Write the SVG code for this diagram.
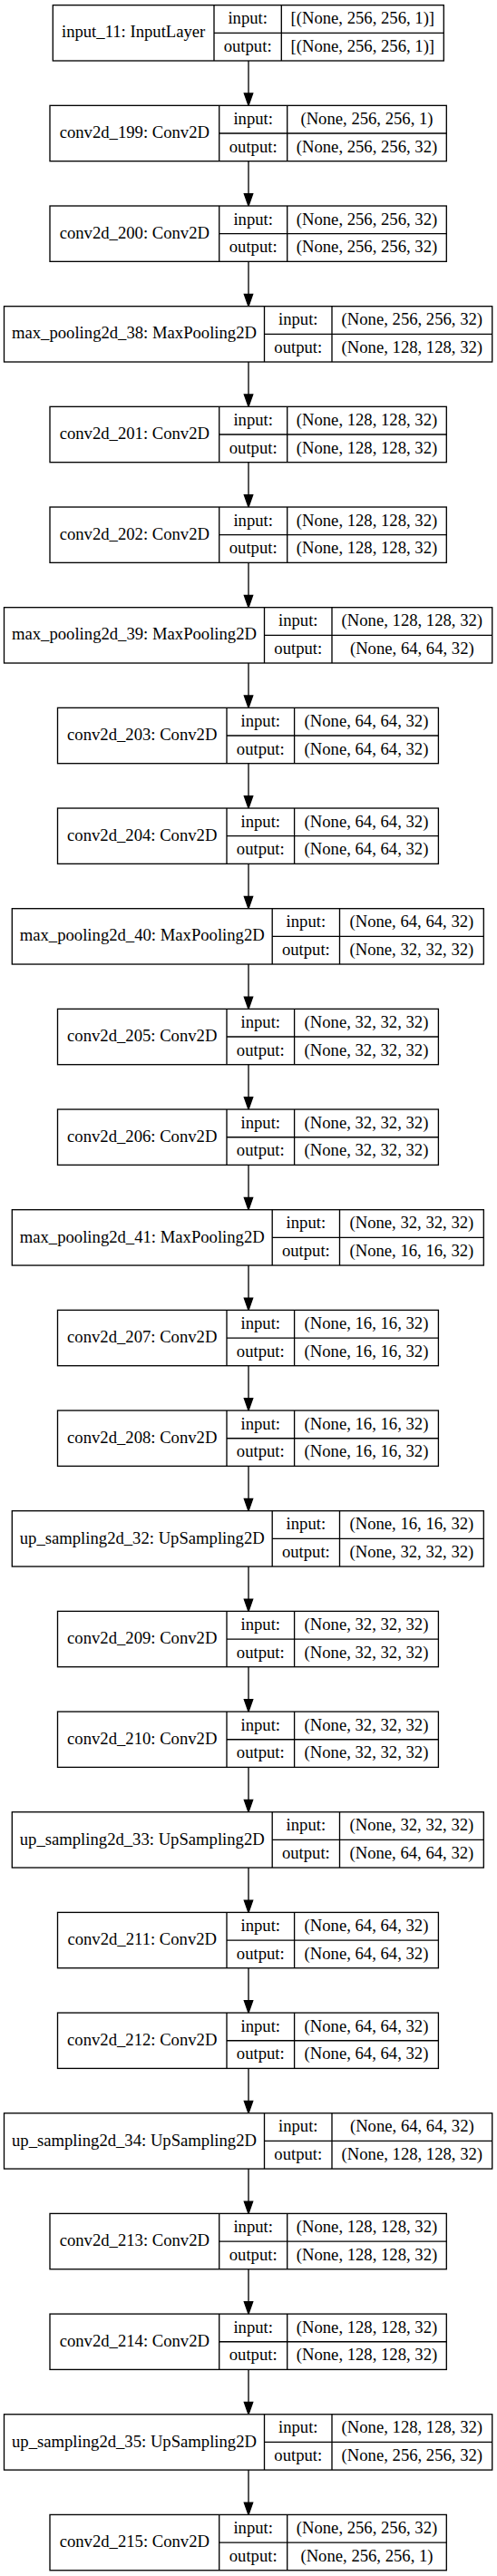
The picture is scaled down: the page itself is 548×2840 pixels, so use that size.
<svg xmlns="http://www.w3.org/2000/svg" width="548" height="2840" viewBox="0 0 548 2840">
<style>
.b{fill:#fff;stroke:#000;stroke-width:1.33}
.s{fill:none;stroke:#000;stroke-width:1.33}
text{font-family:"Liberation Serif","Times New Roman",serif;font-size:18.67px;text-anchor:middle;fill:#000}
.e{fill:none;stroke:#000;stroke-width:1.33}
</style>
<defs>
<marker id="ah" markerUnits="userSpaceOnUse" markerWidth="16" markerHeight="12" refX="0" refY="4.67" orient="auto" overflow="visible">
<path d="M0,0 L13.33,4.67 L0,9.33 Z" fill="#000" stroke="#000" stroke-width="1.33"/>
</marker>
</defs>
<rect width="548" height="2840" fill="#fff"/>
<g id="connectors">
<line class="e" x1="274" y1="67" x2="274" y2="103.01" marker-end="url(#ah)"/>
<line class="e" x1="274" y1="177.67" x2="274" y2="213.68" marker-end="url(#ah)"/>
<line class="e" x1="274" y1="288.34" x2="274" y2="324.35" marker-end="url(#ah)"/>
<line class="e" x1="274" y1="399.01" x2="274" y2="435.02" marker-end="url(#ah)"/>
<line class="e" x1="274" y1="509.68" x2="274" y2="545.69" marker-end="url(#ah)"/>
<line class="e" x1="274" y1="620.35" x2="274" y2="656.36" marker-end="url(#ah)"/>
<line class="e" x1="274" y1="731.02" x2="274" y2="767.03" marker-end="url(#ah)"/>
<line class="e" x1="274" y1="841.69" x2="274" y2="877.70" marker-end="url(#ah)"/>
<line class="e" x1="274" y1="952.36" x2="274" y2="988.37" marker-end="url(#ah)"/>
<line class="e" x1="274" y1="1063.03" x2="274" y2="1099.04" marker-end="url(#ah)"/>
<line class="e" x1="274" y1="1173.70" x2="274" y2="1209.71" marker-end="url(#ah)"/>
<line class="e" x1="274" y1="1284.37" x2="274" y2="1320.38" marker-end="url(#ah)"/>
<line class="e" x1="274" y1="1395.04" x2="274" y2="1431.05" marker-end="url(#ah)"/>
<line class="e" x1="274" y1="1505.71" x2="274" y2="1541.72" marker-end="url(#ah)"/>
<line class="e" x1="274" y1="1616.38" x2="274" y2="1652.39" marker-end="url(#ah)"/>
<line class="e" x1="274" y1="1727.05" x2="274" y2="1763.06" marker-end="url(#ah)"/>
<line class="e" x1="274" y1="1837.72" x2="274" y2="1873.73" marker-end="url(#ah)"/>
<line class="e" x1="274" y1="1948.39" x2="274" y2="1984.40" marker-end="url(#ah)"/>
<line class="e" x1="274" y1="2059.06" x2="274" y2="2095.07" marker-end="url(#ah)"/>
<line class="e" x1="274" y1="2169.73" x2="274" y2="2205.74" marker-end="url(#ah)"/>
<line class="e" x1="274" y1="2280.40" x2="274" y2="2316.41" marker-end="url(#ah)"/>
<line class="e" x1="274" y1="2391.07" x2="274" y2="2427.08" marker-end="url(#ah)"/>
<line class="e" x1="274" y1="2501.74" x2="274" y2="2537.75" marker-end="url(#ah)"/>
<line class="e" x1="274" y1="2612.41" x2="274" y2="2648.42" marker-end="url(#ah)"/>
<line class="e" x1="274" y1="2723.08" x2="274" y2="2759.09" marker-end="url(#ah)"/>
</g>

<g id="input_11" transform="translate(0,5.67)">
<rect class="b" x="58.3" y="0" width="431" height="61.33"/>
<path class="s" d="M236,0V61.33M310.3,0V61.33M236,30.67H489.3"/>
<text x="147.15" y="35.8">input_11: InputLayer</text>
<text x="273.15" y="20.6">input:</text><text x="273.15" y="51.3">output:</text>
<text x="399.8" y="20.6">[(None, 256, 256, 1)]</text><text x="399.8" y="51.3">[(None, 256, 256, 1)]</text>
</g>

<g id="conv2d_199" transform="translate(0,116.34)">
<rect class="b" x="55" y="0" width="437.3" height="61.33"/>
<path class="s" d="M241.7,0V61.33M316.7,0V61.33M241.7,30.67H492.3"/>
<text x="148.35" y="35.8">conv2d_199: Conv2D</text>
<text x="279.2" y="20.6">input:</text><text x="279.2" y="51.3">output:</text>
<text x="404.5" y="20.6">(None, 256, 256, 1)</text><text x="404.5" y="51.3">(None, 256, 256, 32)</text>
</g>

<g id="conv2d_200" transform="translate(0,227.01)">
<rect class="b" x="55" y="0" width="437.3" height="61.33"/>
<path class="s" d="M241.7,0V61.33M316.7,0V61.33M241.7,30.67H492.3"/>
<text x="148.35" y="35.8">conv2d_200: Conv2D</text>
<text x="279.2" y="20.6">input:</text><text x="279.2" y="51.3">output:</text>
<text x="404.5" y="20.6">(None, 256, 256, 32)</text><text x="404.5" y="51.3">(None, 256, 256, 32)</text>
</g>

<g id="max_pooling2d_38" transform="translate(0,337.68)">
<rect class="b" x="4.5" y="0" width="538.2" height="61.33"/>
<path class="s" d="M291.5,0V61.33M366,0V61.33M291.5,30.67H542.7"/>
<text x="148" y="35.8">max_pooling2d_38: MaxPooling2D</text>
<text x="328.75" y="20.6">input:</text><text x="328.75" y="51.3">output:</text>
<text x="454.35" y="20.6">(None, 256, 256, 32)</text><text x="454.35" y="51.3">(None, 128, 128, 32)</text>
</g>

<g id="conv2d_201" transform="translate(0,448.35)">
<rect class="b" x="55" y="0" width="437.3" height="61.33"/>
<path class="s" d="M241.7,0V61.33M316.7,0V61.33M241.7,30.67H492.3"/>
<text x="148.35" y="35.8">conv2d_201: Conv2D</text>
<text x="279.2" y="20.6">input:</text><text x="279.2" y="51.3">output:</text>
<text x="404.5" y="20.6">(None, 128, 128, 32)</text><text x="404.5" y="51.3">(None, 128, 128, 32)</text>
</g>

<g id="conv2d_202" transform="translate(0,559.02)">
<rect class="b" x="55" y="0" width="437.3" height="61.33"/>
<path class="s" d="M241.7,0V61.33M316.7,0V61.33M241.7,30.67H492.3"/>
<text x="148.35" y="35.8">conv2d_202: Conv2D</text>
<text x="279.2" y="20.6">input:</text><text x="279.2" y="51.3">output:</text>
<text x="404.5" y="20.6">(None, 128, 128, 32)</text><text x="404.5" y="51.3">(None, 128, 128, 32)</text>
</g>

<g id="max_pooling2d_39" transform="translate(0,669.69)">
<rect class="b" x="4.5" y="0" width="538.2" height="61.33"/>
<path class="s" d="M291.5,0V61.33M366,0V61.33M291.5,30.67H542.7"/>
<text x="148" y="35.8">max_pooling2d_39: MaxPooling2D</text>
<text x="328.75" y="20.6">input:</text><text x="328.75" y="51.3">output:</text>
<text x="454.35" y="20.6">(None, 128, 128, 32)</text><text x="454.35" y="51.3">(None, 64, 64, 32)</text>
</g>

<g id="conv2d_203" transform="translate(0,780.36)">
<rect class="b" x="63.5" y="0" width="419.9" height="61.33"/>
<path class="s" d="M250,0V61.33M324.6,0V61.33M250,30.67H483.4"/>
<text x="156.75" y="35.8">conv2d_203: Conv2D</text>
<text x="287.3" y="20.6">input:</text><text x="287.3" y="51.3">output:</text>
<text x="404" y="20.6">(None, 64, 64, 32)</text><text x="404" y="51.3">(None, 64, 64, 32)</text>
</g>

<g id="conv2d_204" transform="translate(0,891.03)">
<rect class="b" x="63.5" y="0" width="419.9" height="61.33"/>
<path class="s" d="M250,0V61.33M324.6,0V61.33M250,30.67H483.4"/>
<text x="156.75" y="35.8">conv2d_204: Conv2D</text>
<text x="287.3" y="20.6">input:</text><text x="287.3" y="51.3">output:</text>
<text x="404" y="20.6">(None, 64, 64, 32)</text><text x="404" y="51.3">(None, 64, 64, 32)</text>
</g>

<g id="max_pooling2d_40" transform="translate(0,1001.70)">
<rect class="b" x="13.3" y="0" width="520" height="61.33"/>
<path class="s" d="M300.2,0V61.33M374.5,0V61.33M300.2,30.67H533.3"/>
<text x="156.75" y="35.8">max_pooling2d_40: MaxPooling2D</text>
<text x="337.35" y="20.6">input:</text><text x="337.35" y="51.3">output:</text>
<text x="453.9" y="20.6">(None, 64, 64, 32)</text><text x="453.9" y="51.3">(None, 32, 32, 32)</text>
</g>

<g id="conv2d_205" transform="translate(0,1112.37)">
<rect class="b" x="63.5" y="0" width="419.9" height="61.33"/>
<path class="s" d="M250,0V61.33M324.6,0V61.33M250,30.67H483.4"/>
<text x="156.75" y="35.8">conv2d_205: Conv2D</text>
<text x="287.3" y="20.6">input:</text><text x="287.3" y="51.3">output:</text>
<text x="404" y="20.6">(None, 32, 32, 32)</text><text x="404" y="51.3">(None, 32, 32, 32)</text>
</g>

<g id="conv2d_206" transform="translate(0,1223.04)">
<rect class="b" x="63.5" y="0" width="419.9" height="61.33"/>
<path class="s" d="M250,0V61.33M324.6,0V61.33M250,30.67H483.4"/>
<text x="156.75" y="35.8">conv2d_206: Conv2D</text>
<text x="287.3" y="20.6">input:</text><text x="287.3" y="51.3">output:</text>
<text x="404" y="20.6">(None, 32, 32, 32)</text><text x="404" y="51.3">(None, 32, 32, 32)</text>
</g>

<g id="max_pooling2d_41" transform="translate(0,1333.71)">
<rect class="b" x="13.3" y="0" width="520" height="61.33"/>
<path class="s" d="M300.2,0V61.33M374.5,0V61.33M300.2,30.67H533.3"/>
<text x="156.75" y="35.8">max_pooling2d_41: MaxPooling2D</text>
<text x="337.35" y="20.6">input:</text><text x="337.35" y="51.3">output:</text>
<text x="453.9" y="20.6">(None, 32, 32, 32)</text><text x="453.9" y="51.3">(None, 16, 16, 32)</text>
</g>

<g id="conv2d_207" transform="translate(0,1444.38)">
<rect class="b" x="63.5" y="0" width="419.9" height="61.33"/>
<path class="s" d="M250,0V61.33M324.6,0V61.33M250,30.67H483.4"/>
<text x="156.75" y="35.8">conv2d_207: Conv2D</text>
<text x="287.3" y="20.6">input:</text><text x="287.3" y="51.3">output:</text>
<text x="404" y="20.6">(None, 16, 16, 32)</text><text x="404" y="51.3">(None, 16, 16, 32)</text>
</g>

<g id="conv2d_208" transform="translate(0,1555.05)">
<rect class="b" x="63.5" y="0" width="419.9" height="61.33"/>
<path class="s" d="M250,0V61.33M324.6,0V61.33M250,30.67H483.4"/>
<text x="156.75" y="35.8">conv2d_208: Conv2D</text>
<text x="287.3" y="20.6">input:</text><text x="287.3" y="51.3">output:</text>
<text x="404" y="20.6">(None, 16, 16, 32)</text><text x="404" y="51.3">(None, 16, 16, 32)</text>
</g>

<g id="up_sampling2d_32" transform="translate(0,1665.72)">
<rect class="b" x="13.3" y="0" width="520" height="61.33"/>
<path class="s" d="M300.2,0V61.33M374.5,0V61.33M300.2,30.67H533.3"/>
<text x="156.75" y="35.8">up_sampling2d_32: UpSampling2D</text>
<text x="337.35" y="20.6">input:</text><text x="337.35" y="51.3">output:</text>
<text x="453.9" y="20.6">(None, 16, 16, 32)</text><text x="453.9" y="51.3">(None, 32, 32, 32)</text>
</g>

<g id="conv2d_209" transform="translate(0,1776.39)">
<rect class="b" x="63.5" y="0" width="419.9" height="61.33"/>
<path class="s" d="M250,0V61.33M324.6,0V61.33M250,30.67H483.4"/>
<text x="156.75" y="35.8">conv2d_209: Conv2D</text>
<text x="287.3" y="20.6">input:</text><text x="287.3" y="51.3">output:</text>
<text x="404" y="20.6">(None, 32, 32, 32)</text><text x="404" y="51.3">(None, 32, 32, 32)</text>
</g>

<g id="conv2d_210" transform="translate(0,1887.06)">
<rect class="b" x="63.5" y="0" width="419.9" height="61.33"/>
<path class="s" d="M250,0V61.33M324.6,0V61.33M250,30.67H483.4"/>
<text x="156.75" y="35.8">conv2d_210: Conv2D</text>
<text x="287.3" y="20.6">input:</text><text x="287.3" y="51.3">output:</text>
<text x="404" y="20.6">(None, 32, 32, 32)</text><text x="404" y="51.3">(None, 32, 32, 32)</text>
</g>

<g id="up_sampling2d_33" transform="translate(0,1997.73)">
<rect class="b" x="13.3" y="0" width="520" height="61.33"/>
<path class="s" d="M300.2,0V61.33M374.5,0V61.33M300.2,30.67H533.3"/>
<text x="156.75" y="35.8">up_sampling2d_33: UpSampling2D</text>
<text x="337.35" y="20.6">input:</text><text x="337.35" y="51.3">output:</text>
<text x="453.9" y="20.6">(None, 32, 32, 32)</text><text x="453.9" y="51.3">(None, 64, 64, 32)</text>
</g>

<g id="conv2d_211" transform="translate(0,2108.40)">
<rect class="b" x="63.5" y="0" width="419.9" height="61.33"/>
<path class="s" d="M250,0V61.33M324.6,0V61.33M250,30.67H483.4"/>
<text x="156.75" y="35.8">conv2d_211: Conv2D</text>
<text x="287.3" y="20.6">input:</text><text x="287.3" y="51.3">output:</text>
<text x="404" y="20.6">(None, 64, 64, 32)</text><text x="404" y="51.3">(None, 64, 64, 32)</text>
</g>

<g id="conv2d_212" transform="translate(0,2219.07)">
<rect class="b" x="63.5" y="0" width="419.9" height="61.33"/>
<path class="s" d="M250,0V61.33M324.6,0V61.33M250,30.67H483.4"/>
<text x="156.75" y="35.8">conv2d_212: Conv2D</text>
<text x="287.3" y="20.6">input:</text><text x="287.3" y="51.3">output:</text>
<text x="404" y="20.6">(None, 64, 64, 32)</text><text x="404" y="51.3">(None, 64, 64, 32)</text>
</g>

<g id="up_sampling2d_34" transform="translate(0,2329.74)">
<rect class="b" x="4.5" y="0" width="538.2" height="61.33"/>
<path class="s" d="M291.5,0V61.33M366,0V61.33M291.5,30.67H542.7"/>
<text x="148" y="35.8">up_sampling2d_34: UpSampling2D</text>
<text x="328.75" y="20.6">input:</text><text x="328.75" y="51.3">output:</text>
<text x="454.35" y="20.6">(None, 64, 64, 32)</text><text x="454.35" y="51.3">(None, 128, 128, 32)</text>
</g>

<g id="conv2d_213" transform="translate(0,2440.41)">
<rect class="b" x="55" y="0" width="437.3" height="61.33"/>
<path class="s" d="M241.7,0V61.33M316.7,0V61.33M241.7,30.67H492.3"/>
<text x="148.35" y="35.8">conv2d_213: Conv2D</text>
<text x="279.2" y="20.6">input:</text><text x="279.2" y="51.3">output:</text>
<text x="404.5" y="20.6">(None, 128, 128, 32)</text><text x="404.5" y="51.3">(None, 128, 128, 32)</text>
</g>

<g id="conv2d_214" transform="translate(0,2551.08)">
<rect class="b" x="55" y="0" width="437.3" height="61.33"/>
<path class="s" d="M241.7,0V61.33M316.7,0V61.33M241.7,30.67H492.3"/>
<text x="148.35" y="35.8">conv2d_214: Conv2D</text>
<text x="279.2" y="20.6">input:</text><text x="279.2" y="51.3">output:</text>
<text x="404.5" y="20.6">(None, 128, 128, 32)</text><text x="404.5" y="51.3">(None, 128, 128, 32)</text>
</g>

<g id="up_sampling2d_35" transform="translate(0,2661.75)">
<rect class="b" x="4.5" y="0" width="538.2" height="61.33"/>
<path class="s" d="M291.5,0V61.33M366,0V61.33M291.5,30.67H542.7"/>
<text x="148" y="35.8">up_sampling2d_35: UpSampling2D</text>
<text x="328.75" y="20.6">input:</text><text x="328.75" y="51.3">output:</text>
<text x="454.35" y="20.6">(None, 128, 128, 32)</text><text x="454.35" y="51.3">(None, 256, 256, 32)</text>
</g>

<g id="conv2d_215" transform="translate(0,2772.42)">
<rect class="b" x="55" y="0" width="437.3" height="61.33"/>
<path class="s" d="M241.7,0V61.33M316.7,0V61.33M241.7,30.67H492.3"/>
<text x="148.35" y="35.8">conv2d_215: Conv2D</text>
<text x="279.2" y="20.6">input:</text><text x="279.2" y="51.3">output:</text>
<text x="404.5" y="20.6">(None, 256, 256, 32)</text><text x="404.5" y="51.3">(None, 256, 256, 1)</text>
</g>
</svg>
